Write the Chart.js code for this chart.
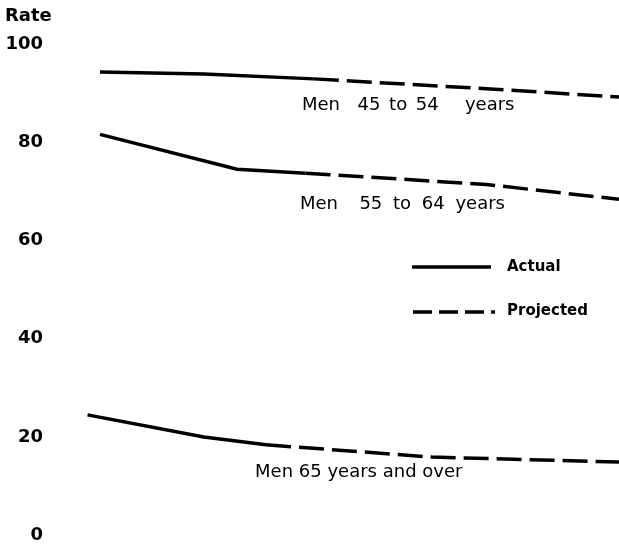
<!DOCTYPE html>
<html>
<head>
<meta charset="utf-8">
<script src="https://cdn.jsdelivr.net/npm/chart.js@4.4.0/dist/chart.umd.min.js"></script>
<style>
  html, body { margin: 0; padding: 0; background: #fff; }
  #wrap { width: 619px; height: 546px; position: relative; }
</style>
</head>
<body>
<div id="wrap"><canvas id="chart"></canvas></div>
<script>
// values (rate, percent)
var yTicks = [0, 20, 40, 60, 80, 100];

var men4554ActualYears = [1970, 1975, 1980.3];
var men4554Actual = [94.3, 93.9, 92.9];
var men4554ProjYears = [1980.3, 1989, 1995];
var men4554Proj = [92.9, 90.8, 89.2];

var men5564ActualYears = [1970, 1976.6, 1979.9];
var men5564Actual = [81.6, 74.5, 73.7];
var men5564ProjYears = [1979.9, 1988.6, 1995];
var men5564Proj = [73.7, 71.4, 68.4];

var men65ActualYears = [1969.4, 1975, 1978];
var men65Actual = [24.5, 20.0, 18.4];
var men65ProjYears = [1978, 1986, 1995];
var men65Proj = [18.4, 15.9, 14.9];

var seriesLabels = ['Men  45 to 54   years', 'Men  55 to 64 years', 'Men 65 years and over'];
var labelAnchors = [[1979.73, 87.6], [1979.63, 67.3], [1977.47, 12.9]];
var labelWordSpacing = [3, 5, 0];

function pts(xs, ys) {
    var out = [];
    for (var i = 0; i < xs.length; i++) out.push({x: xs[i], y: ys[i]});
    return out;
}

function line_set(label, xs, ys, dashed) {
    return {
        label: label,
        data: pts(xs, ys),
        borderColor: '#000',
        borderWidth: 3.5,
        borderDash: dashed ? [25, 8] : [],
        pointRadius: 0,
        tension: 0,
        fill: false
    };
}

var FONT = '"DejaVu Sans", "Liberation Sans", Arial, sans-serif';

var textPlugin = {
    id: 'texts',
    afterDraw: function(chart) {
        var ctx = chart.ctx;
        var xs = chart.scales.x, ys = chart.scales.y;
        ctx.save();
        ctx.fillStyle = '#000';
        ctx.textBaseline = 'middle';
        ctx.font = 'bold 18px ' + FONT;
        ctx.textAlign = 'left';
        ctx.fillText('Rate', 5, 16);

        ctx.font = '18px ' + FONT;
        for (var i = 0; i < seriesLabels.length; i++) {
            ctx.wordSpacing = labelWordSpacing[i] + 'px';
            ctx.fillText(seriesLabels[i], xs.getPixelForValue(labelAnchors[i][0]), ys.getPixelForValue(labelAnchors[i][1]));
        }
        ctx.wordSpacing = '0px';

        // legend
        ctx.strokeStyle = '#000';
        ctx.lineWidth = 3.5;
        ctx.beginPath();
        ctx.moveTo(412, 267); ctx.lineTo(491, 267);
        ctx.stroke();
        ctx.setLineDash([19, 7]);
        ctx.beginPath();
        ctx.moveTo(413, 312); ctx.lineTo(495, 312);
        ctx.stroke();
        ctx.setLineDash([]);
        ctx.font = 'bold 15px ' + FONT;
        ctx.fillText('Actual', 507, 267);
        ctx.fillText('Projected', 507, 311);
        ctx.restore();
    }
};

var ctx = document.getElementById('chart').getContext('2d');
var myChart = new Chart(ctx, {
    type: 'line',
    data: {
        datasets: [
            line_set('Men 45 to 54 actual', men4554ActualYears, men4554Actual, false),
            line_set('Men 45 to 54 projected', men4554ProjYears, men4554Proj, true),
            line_set('Men 55 to 64 actual', men5564ActualYears, men5564Actual, false),
            line_set('Men 55 to 64 projected', men5564ProjYears, men5564Proj, true),
            line_set('Men 65 and over actual', men65ActualYears, men65Actual, false),
            line_set('Men 65 and over projected', men65ProjYears, men65Proj, true)
        ]
    },
    options: {
        responsive: true,
        maintainAspectRatio: false,
        animation: false,
        layout: { padding: { top: 44, bottom: 0, right: 0, left: 0 } },
        plugins: { legend: { display: false }, tooltip: { enabled: false } },
        scales: {
            x: { type: 'linear', min: 1967.254, max: 1995, display: false },
            y: {
                min: 0, max: 100,
                afterFit: function(axis) { axis.width = 43; },
                afterBuildTicks: function(axis) { axis.ticks = yTicks.map(function(v) { return {value: v}; }); },
                grid: { display: false, drawTicks: false },
                border: { display: false },
                ticks: { padding: 0, color: '#000', font: { family: FONT, size: 18, weight: 'bold' } }
            }
        }
    },
    plugins: [textPlugin]
});
</script>
</body>
</html>
